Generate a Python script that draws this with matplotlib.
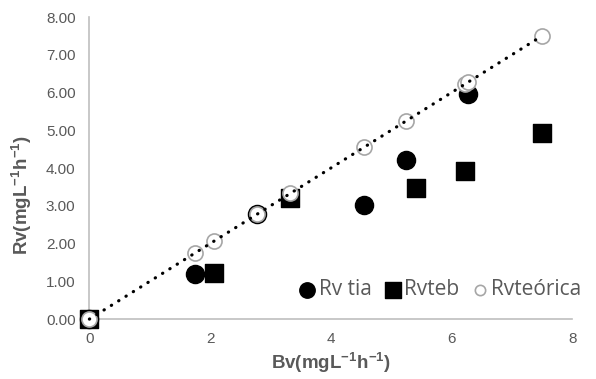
import numpy as np
import matplotlib.pyplot as plt

plt.rcParams['font.family'] = ['Liberation Sans', 'DejaVu Sans']
plt.rcParams['mathtext.fontset'] = 'custom'
plt.rcParams['mathtext.rm'] = 'Liberation Sans'
plt.rcParams['mathtext.bf'] = 'Liberation Sans:bold'

# datos
tia_x = [0, 1.75, 2.78, 4.55, 5.25, 6.28]
tia_y = [0, 1.20, 2.78, 3.02, 4.22, 5.97]

teb_x = [0, 2.07, 3.33, 5.41, 6.23, 7.50]
teb_y = [0, 1.22, 3.22, 3.47, 3.92, 4.92]

teo_x = [0, 1.75, 2.07, 2.78, 3.33, 4.55, 5.25, 6.23, 6.28, 7.50]
teo_y = [0, 1.75, 2.07, 2.78, 3.33, 4.55, 5.25, 6.23, 6.28, 7.50]

x_ticks = [0, 2, 4, 6, 8]
y_ticks = [0, 1, 2, 3, 4, 5, 6, 7, 8]

gris = '#595959'

fig = plt.figure(figsize=(5.96, 3.79), dpi=100)
ax = fig.add_axes([0.150, 0.158, 0.810, 0.797])

# linea de tendencia punteada
ax.plot(teo_x, teo_y, color='black', lw=2.3, linestyle=(0, (0.1, 2.6)),
        dash_capstyle='round', zorder=4, clip_on=False)

ax.scatter(tia_x, tia_y, s=170, marker='o', color='black', label='Rv tia',
           zorder=2, clip_on=False)
ax.scatter(teb_x, teb_y, s=165, marker='s', color='black', label='Rvteb',
           zorder=2, clip_on=False)
ax.scatter(teo_x, teo_y, s=118, marker='o', facecolor='white', edgecolor='#a6a6a6',
           linewidths=1.2, label='Rvteórica', zorder=3, clip_on=False)

ax.set_xlim(0, 8)
ax.set_ylim(0, 8)
ax.set_xticks(x_ticks)
ax.set_yticks(y_ticks)
ax.set_yticklabels([f'{v:.2f}' for v in y_ticks])
ax.tick_params(length=0, colors=gris, labelsize=11)
ax.tick_params(axis='y', pad=10)
ax.tick_params(axis='x', pad=9)

for s in ['top', 'right']:
    ax.spines[s].set_visible(False)
for s in ['left', 'bottom']:
    ax.spines[s].set_color('#bfbfbf')
    ax.spines[s].set_linewidth(1.2)
    ax.spines[s].set_zorder(1)

ax.set_xlabel(r'$\mathbf{Bv(mgL^{-1}h^{-1})}$', fontsize=13.5, color=gris, labelpad=4)
ax.set_ylabel(r'$\mathbf{Rv(mgL^{-1}h^{-1})}$', fontsize=13.5, color=gris)
ax.yaxis.set_label_coords(-0.115, 0.41)

leg = fig.legend(loc='center right', bbox_to_anchor=(0.99, 0.235), frameon=False,
                 ncol=3, handletextpad=0.0, columnspacing=0.45,
                 handlelength=1.1, borderaxespad=0, markerscale=0.85,
                 prop={'family': 'Open Sans', 'size': 15})
for t in leg.get_texts():
    t.set_color(gris)
leg.legend_handles[2].set_sizes([55])

fig.savefig('out.png', dpi=100)
